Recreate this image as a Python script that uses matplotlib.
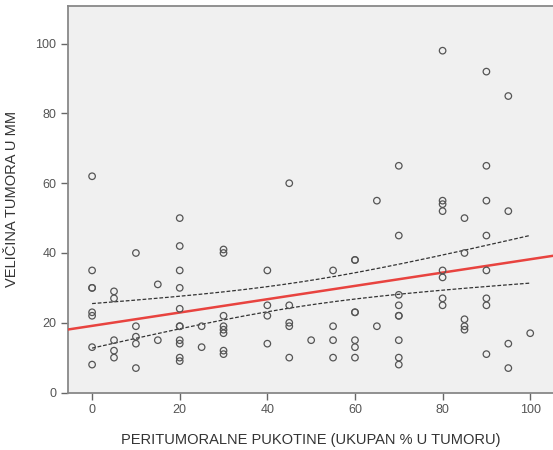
import numpy as np
import matplotlib
matplotlib.use("Agg")
import matplotlib.pyplot as plt

plt.rcParams['font.family'] = ['Liberation Sans', 'DejaVu Sans']

# Data (x = % peritumoral cracks, y = tumour size in mm)
x0 = [0] * 8;  y0 = [62, 35, 30, 30, 23, 22, 13, 8]
x5 = [5] * 5;  y5 = [29, 27, 15, 12, 10]
x10 = [10] * 5; y10 = [40, 19, 16, 14, 7]
x15 = [15] * 2; y15 = [31, 15]
x20 = [20] * 11; y20 = [50, 42, 35, 30, 24, 19, 19, 15, 14, 10, 9]
x25 = [25] * 2; y25 = [19, 13]
x30 = [30] * 8; y30 = [41, 40, 22, 19, 18, 17, 12, 11]
x40 = [40] * 4; y40 = [35, 25, 22, 14]
x45 = [45] * 5; y45 = [60, 25, 20, 19, 10]
x50 = [50] * 1; y50 = [15]
x55 = [55] * 4; y55 = [35, 19, 15, 10]
x60 = [60] * 7; y60 = [38, 38, 23, 23, 15, 13, 10]
x65 = [65] * 2; y65 = [55, 19]
x70 = [70] * 9; y70 = [65, 45, 28, 25, 22, 22, 15, 10, 8]
x80 = [80] * 8; y80 = [98, 55, 54, 52, 35, 33, 27, 25]
x85 = [85] * 5; y85 = [50, 40, 21, 19, 18]
x90 = [90] * 8; y90 = [92, 65, 55, 45, 35, 27, 25, 11]
x95 = [95] * 4; y95 = [85, 52, 14, 7]
x100 = [100] * 1; y100 = [17]

xs = np.array(x0 + x5 + x10 + x15 + x20 + x25 + x30 + x40 + x45 + x50 + x55 +
              x60 + x65 + x70 + x80 + x85 + x90 + x95 + x100, dtype=float)
ys = np.array(y0 + y5 + y10 + y15 + y20 + y25 + y30 + y40 + y45 + y50 + y55 +
              y60 + y65 + y70 + y80 + y85 + y90 + y95 + y100, dtype=float)

x_ticks = [0, 20, 40, 60, 80, 100]
y_ticks = [0, 20, 40, 60, 80, 100]

fig = plt.figure(figsize=(5.53, 4.5), dpi=100)
ax = fig.add_axes([68 / 553, 1 - 392.5 / 450, 1 - 68 / 553, (392.5 - 5.7) / 450])
ax.set_facecolor('#f0f0f0')
ax.set_xlim(-5.5, 105.2)
ax.set_ylim(0, 110.9)

# linear fit and 95% CI of the mean
n = len(xs)
b, a = np.polyfit(xs, ys, 1)
resid = ys - (a + b * xs)
s = np.sqrt(np.sum(resid ** 2) / (n - 2))
xm = xs.mean()
sxx = np.sum((xs - xm) ** 2)
tval = 1.98
xl = np.linspace(-5.5, 105.2, 200)
ax.plot(xl, a + b * xl, color='#e8433f', lw=1.8, zorder=3)
xc = np.linspace(0, 100, 200)
se = s * np.sqrt(1 / n + (xc - xm) ** 2 / sxx)
yc = a + b * xc
ax.plot(xc, yc + tval * se, color='#333333', lw=0.9, ls=(0, (3, 1.5)), zorder=3)
ax.plot(xc, yc - tval * se, color='#333333', lw=0.9, ls=(0, (3, 1.5)), zorder=3)

ax.scatter(xs, ys, s=22, facecolors='none', edgecolors='#555555', linewidths=0.9, zorder=4)

for sp in ['left', 'top', 'bottom']:
    ax.spines[sp].set_color('#888888')
    ax.spines[sp].set_linewidth(1.3)
ax.spines['right'].set_visible(False)

ax.set_xticks(x_ticks)
ax.set_yticks(y_ticks)
ax.tick_params(axis='both', direction='out', length=5, width=1, color='#666666',
               labelcolor='#555555', labelsize=9)
ax.set_xlabel('PERITUMORALNE PUKOTINE (UKUPAN % U TUMORU)', fontsize=10.5,
              color='#333333', labelpad=12)
ax.set_ylabel('VELIČINA TUMORA U MM', fontsize=10.5, color='#333333', labelpad=12)

fig.savefig('out.png', dpi=100)
